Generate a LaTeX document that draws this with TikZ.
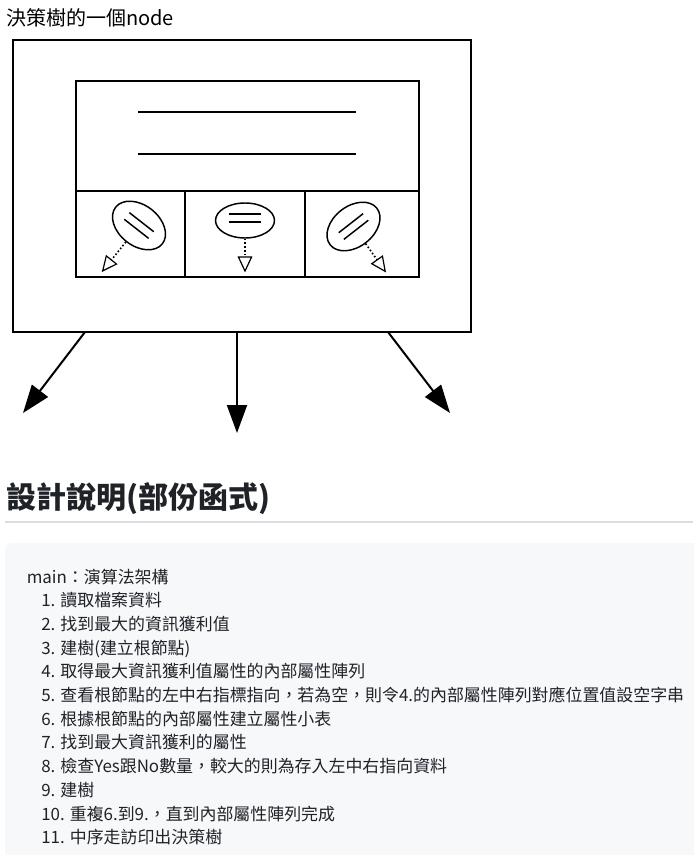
\documentclass[tikz,border=0pt]{standalone}
\usepackage{fontspec}
\setmainfont{Noto Sans CJK TC}
\usetikzlibrary{arrows.meta,shapes.geometric}
\definecolor{txt}{HTML}{1F2328}
\definecolor{boxbg}{HTML}{F6F8FA}
\definecolor{rulec}{HTML}{D8DEE4}
\begin{document}
\begin{tikzpicture}[x=0.75pt,y=-0.75pt,
  frame/.style={draw=black, line width=1.7pt},
  thin frame/.style={draw=black, line width=1.5pt},
  bar/.style={line width=1.5pt},
  oval/.style={ellipse, draw=black, line width=1.1pt, inner sep=0pt,
     minimum width=44.5pt, minimum height=30.5pt},
  dotline/.style={line width=1.2pt, dash pattern=on 1.2pt off 1.6pt,
     -{Triangle[open, length=12pt, width=11pt, line width=0.9pt]}},
  bigarrow/.style={line width=1.5pt, -{Triangle[length=21pt, width=15pt]}},
  listtext/.style={anchor=base west, inner sep=0pt, text=txt, font=\fontsize{12.7pt}{14pt}\selectfont}
]
\useasboundingbox (0,0) rectangle (693,855);

% title
\node[anchor=base west, inner sep=0pt, font=\fontsize{15pt}{18pt}\selectfont] (title) at (6,26) {決策樹的一個node};

% outer and inner boxes
\draw[frame] (13.3,40) rectangle (470.7,332);
\draw[thin frame] (75.5,80.7) rectangle (418.7,277);
\draw[thin frame] (75.5,190.7) -- (418.7,190.7);
\draw[thin frame] (185,190.7) -- (185,277);
\draw[thin frame] (304.5,190.7) -- (304.5,277);
\draw[bar] (138,112) -- (356,112);
\draw[bar] (138,154) -- (356,154);

% cell 1
\node[oval, rotate=-38] (e1) at (139,225.5) {};
\begin{scope}[shift={(139,225.5)}, rotate=-38]
  \draw[line width=1.1pt] (-15.5,-4.2) -- (15.5,-4.2);
  \draw[line width=1.1pt] (-15.5,4.2) -- (15.5,4.2);
\end{scope}
\coordinate (t1) at (101.8,272);
\draw[dotline] (e1) -- (t1);

% cell 2
\node[oval, minimum width=44.25pt, minimum height=26.25pt] (e2) at (245,220.5) {};
\draw[line width=1.1pt] (229,214.2) -- (261,214.2);
\draw[line width=1.1pt] (229,221.8) -- (261,221.8);
\coordinate (t2) at (245,272.5);
\draw[dotline] (e2) -- (t2);

% cell 3
\node[oval, rotate=38] (e3) at (353.5,226.5) {};
\begin{scope}[shift={(353.5,226.5)}, rotate=38]
  \draw[line width=1.1pt] (-15.5,-4.2) -- (15.5,-4.2);
  \draw[line width=1.1pt] (-15.5,4.2) -- (15.5,4.2);
\end{scope}
\coordinate (t3) at (386,272.5);
\draw[dotline] (e3) -- (t3);

% big arrows
\coordinate (s1) at (85,332);
\coordinate (s2) at (237,332);
\coordinate (s3) at (388,332);
\coordinate (d1) at (23,413);
\coordinate (d2) at (237,433);
\coordinate (d3) at (450,413);
\draw[bigarrow] (s1) -- (d1);
\draw[bigarrow] (s2) -- (d2);
\draw[bigarrow] (s3) -- (d3);

% heading
\node[anchor=base west, inner sep=0pt, text=txt, font=\fontsize{22.5pt}{26pt}\selectfont\bfseries] (heading) at (6,508.5) {設計說明(部份函式)};
\draw[rulec, line width=1pt] (5,522) -- (693,522);

% code box
\fill[boxbg, rounded corners=4pt] (5,543) rectangle (700,870);

\node[listtext] (l0) at (26.5,583) {main：演算法架構};
\node[listtext] (l1) at (41,606.7) {1. 讀取檔案資料};
\node[listtext] (l2) at (41,630.4) {2. 找到最大的資訊獲利值};
\node[listtext] (l3) at (41,654.1) {3. 建樹(建立根節點)};
\node[listtext] (l4) at (41,677.8) {4. 取得最大資訊獲利值屬性的內部屬性陣列};
\node[listtext] (l5) at (41,701.5) {5. 查看根節點的左中右指標指向，若為空，則令4.的內部屬性陣列對應位置值設空字串};
\node[listtext] (l6) at (41,725.2) {6. 根據根節點的內部屬性建立屬性小表};
\node[listtext] (l7) at (41,748.9) {7. 找到最大資訊獲利的屬性};
\node[listtext] (l8) at (41,772.6) {8. 檢查Yes跟No數量，較大的則為存入左中右指向資料};
\node[listtext] (l9) at (41,796.3) {9. 建樹};
\node[listtext] (l10) at (41,820) {10. 重複6.到9.，直到內部屬性陣列完成};
\node[listtext] (l11) at (41,843.7) {11. 中序走訪印出決策樹};
\end{tikzpicture}
\end{document}
